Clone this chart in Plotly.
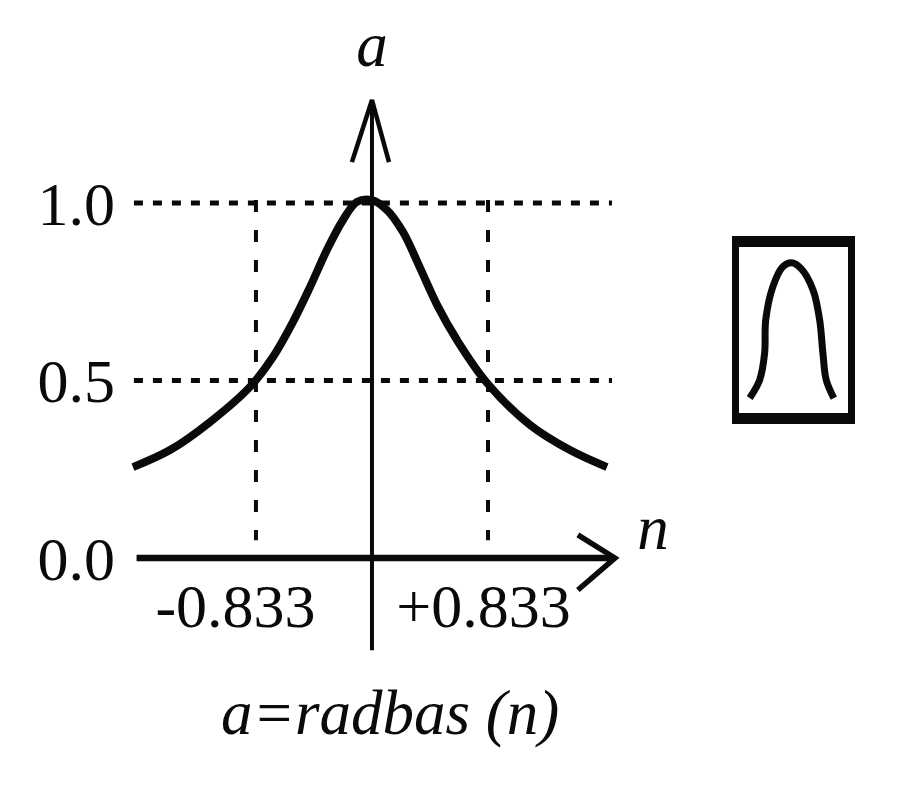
import plotly.graph_objects as go

# curve
n_curve = [-1.716, -1.45, -1.163, -0.876, -0.711, -0.567, -0.445, -0.323, -0.208, -0.108, 0.0,
           0.108, 0.223, 0.345, 0.467, 0.610, 0.826, 1.134, 1.421, 1.687]
a_curve = [0.256, 0.304, 0.383, 0.482, 0.566, 0.665, 0.763, 0.868, 0.952, 1.003, 1.008,
           0.980, 0.918, 0.817, 0.713, 0.614, 0.493, 0.375, 0.304, 0.256]

half_width = 0.833
guide_levels = [1.0, 0.5]
guide_n_ends = [-1.709, 1.723]
drop_a_ends = [1.008, 0.05]

a_axis_n = [0.0, 0.0]
a_axis_a = [1.29, -0.26]
a_head_n = [-0.144, 0.0, 0.122]
a_head_a = [1.115, 1.29, 1.115]
n_axis_n = [-1.69, 1.72]
n_axis_a = [0.0, 0.0]
n_head_n = [1.478, 1.744, 1.478]
n_head_a = [0.065, 0.0, -0.09]

y_tick_vals = [0.0, 0.5, 1.0]
y_tick_text = ["0.0", "0.5", "1.0"]
n_tick_n = [-0.98, 0.8]
n_tick_a = [-0.15, -0.15]
n_tick_text = ["-0.833", "+0.833"]

label_n = [0.0, 2.017, 0.13]
label_a = [1.43, 0.07, -0.45]
label_text = ["a", "n", "a=radbas (n)"]

icon_x = [0.098, 0.19, 0.235, 0.245, 0.31, 0.40, 0.48, 0.57, 0.68, 0.74, 0.77, 0.80, 0.87]
icon_y = [0.09, 0.20, 0.36, 0.56, 0.76, 0.88, 0.905, 0.87, 0.74, 0.56, 0.36, 0.20, 0.09]

INK = "#0a0a0a"
FONT = "Liberation Serif"


def add_line(fig, x, y, width, dash=None, shape="linear"):
    fig.add_trace(
        go.Scatter(
            x=x,
            y=y,
            mode="lines",
            line={"color": INK, "width": width, "dash": dash, "shape": shape},
            hoverinfo="skip",
        )
    )


fig = go.Figure()

# dotted level guides, dashed drops
for level in guide_levels:
    add_line(fig, guide_n_ends, [level, level], 5, dash="9px,10px")
for n_val in (-half_width, half_width):
    add_line(fig, [n_val, n_val], drop_a_ends, 4, dash="12px,18px")

add_line(fig, a_axis_n, a_axis_a, 4)
add_line(fig, a_head_n, a_head_a, 4.5)
add_line(fig, n_axis_n, n_axis_a, 6.5)
add_line(fig, n_head_n, n_head_a, 5.5)
add_line(fig, n_curve, a_curve, 8, shape="spline")

fig.add_trace(
    go.Scatter(
        x=n_tick_n,
        y=n_tick_a,
        mode="text",
        text=n_tick_text,
        textfont={"family": FONT, "size": 62, "color": INK},
        cliponaxis=False,
        hoverinfo="skip",
    )
)
fig.add_trace(
    go.Scatter(
        x=label_n,
        y=label_a,
        mode="text",
        text=[f"<i>{t}</i>" for t in label_text],
        textfont={"family": FONT, "size": 63, "color": INK},
        cliponaxis=False,
        hoverinfo="skip",
    )
)

# small transfer function icon in its own framed axes
fig.add_trace(
    go.Scatter(
        x=icon_x,
        y=icon_y,
        xaxis="x2",
        yaxis="y2",
        mode="lines",
        line={"color": INK, "width": 7, "shape": "spline"},
        hoverinfo="skip",
    )
)

# ranges allow for the 8px page margin around the figure
fig.update_layout(
    width=900,
    height=800,
    margin={"l": 0, "r": 0, "t": 0, "b": 0},
    paper_bgcolor="white",
    plot_bgcolor="white",
    showlegend=False,
    xaxis={"range": [-2.613, 3.848], "visible": False, "domain": [0, 1]},
    yaxis={
        "range": [-0.704, 1.549],
        "domain": [0, 1],
        "anchor": "free",
        "position": 0.119,
        "tickmode": "array",
        "tickvals": y_tick_vals,
        "ticktext": y_tick_text,
        "tickfont": {"family": FONT, "size": 62, "color": INK},
        "ticks": "",
        "showgrid": False,
        "zeroline": False,
        "showline": False,
    },
    xaxis2={
        "domain": [731 / 900, 840 / 900],
        "range": [0, 1],
        "anchor": "y2",
        "showticklabels": False,
        "ticks": "",
        "showgrid": False,
        "zeroline": False,
        "showline": True,
        "mirror": True,
        "linecolor": INK,
        "linewidth": 11,
    },
    yaxis2={
        "domain": [1 - 405 / 800, 1 - 239 / 800],
        "range": [0, 1],
        "anchor": "x2",
        "showticklabels": False,
        "ticks": "",
        "showgrid": False,
        "zeroline": False,
        "showline": True,
        "mirror": True,
        "linecolor": INK,
        "linewidth": 7,
    },
)

fig.write_html("out.html")
